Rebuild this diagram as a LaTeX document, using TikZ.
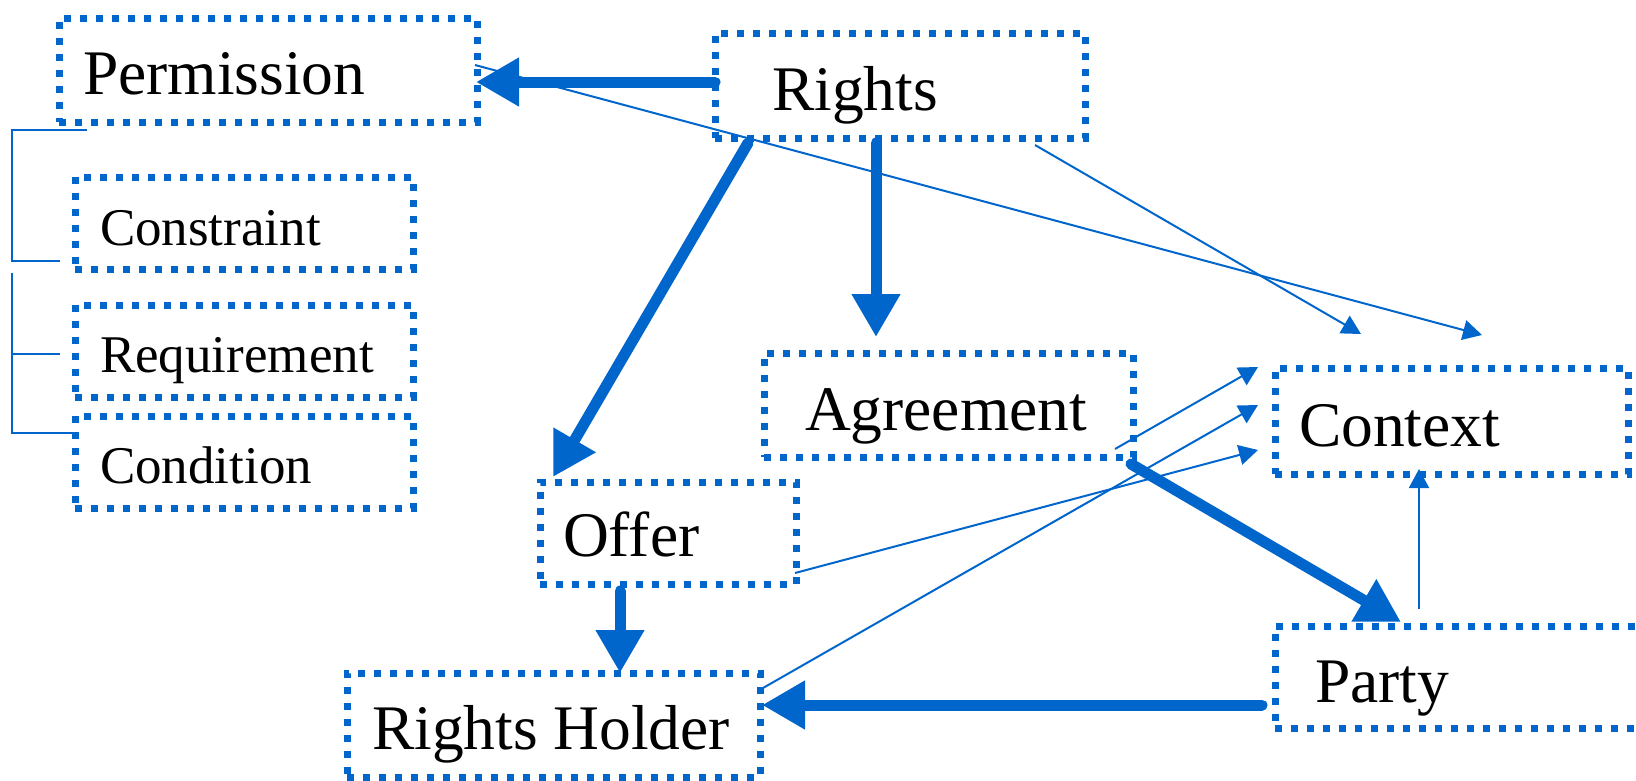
\documentclass[tikz,border=0pt]{standalone}
\usepackage{fontspec}
\setmainfont{Liberation Serif}
\usetikzlibrary{arrows.meta}
\definecolor{bl}{RGB}{0,102,204}
\begin{document}
\begin{tikzpicture}[x=1pt,y=-1pt,
  dotbox/.style={draw=bl, line width=7pt, dash pattern=on 7pt off 9pt, rectangle, inner sep=0pt, outer sep=0pt, text depth=0pt, font=\fontsize{63.5pt}{70pt}\selectfont},
  smallbox/.style={dotbox, font=\fontsize{53pt}{60pt}\selectfont},
  thickarrow/.style={draw=bl, line width=11pt, line cap=round, -{Triangle[length=43pt,width=46pt]}},
  thinarrow/.style={draw=bl, line width=2pt, -{Triangle[length=19pt,width=20pt]}},
  bracket/.style={draw=bl, line width=1.5pt}]
\useasboundingbox (0,0) rectangle (1636,780);
\clip (0,0) rectangle (1636,780);
% boxes
\node[dotbox, minimum width=418pt, minimum height=104pt, text height=48pt] (perm) at (268,70) {\makebox[370pt][l]{Permission}};
\node[dotbox, minimum width=370pt, minimum height=105pt, text height=49pt] (rights) at (900,85.5) {\makebox[256pt][l]{Rights}};
\node[smallbox, minimum width=338pt, minimum height=92pt, text height=44pt] (constraint) at (244,223) {\makebox[288pt][l]{Constraint}};
\node[smallbox, minimum width=338pt, minimum height=92pt, text height=42pt] (requirement) at (244,351) {\makebox[288pt][l]{Requirement}};
\node[smallbox, minimum width=338pt, minimum height=92pt, text height=42pt] (condition) at (244,462) {\makebox[288pt][l]{Condition}};
\node[dotbox, minimum width=369pt, minimum height=104pt, text height=50pt] (agreement) at (948.5,405) {\makebox[287pt][l]{Agreement}};
\node[dotbox, minimum width=256pt, minimum height=102pt, text height=46pt] (offer) at (668,533) {\makebox[210pt][l]{Offer}};
\node[dotbox, minimum width=413pt, minimum height=104pt, text height=48pt] (holder) at (553.5,725) {\makebox[363pt][l]{Rights Holder}};
\node[dotbox, minimum width=353pt, minimum height=106pt, text height=50pt] (context) at (1451.5,421) {\makebox[305pt][l]{Context}};
\node[dotbox, minimum width=425pt, minimum height=102pt, text height=50pt] (party) at (1487.5,677) {\makebox[345pt][l]{Party}};
% brackets
\draw[bracket] ([xshift=28pt,yshift=-8pt]perm.south west) -- ++(-75,0) |- ([xshift=-15pt,yshift=8pt]constraint.south west);
\draw[bracket] ([xshift=-63pt,yshift=-4pt]constraint.south west) |- ([xshift=2pt,yshift=75pt]condition.south west);
\draw[bracket] ([xshift=-63pt,yshift=-3pt]requirement.west) -- ++(48,0);
% thin connectors
\draw[thinarrow] ([xshift=-2pt,yshift=5pt]perm.east) -- ([xshift=30.5pt,yshift=33pt]context.north);
\draw[thinarrow] ([xshift=-50pt,yshift=-7pt]rights.south east) -- ([xshift=-90.5pt,yshift=34pt]context.north);
\draw[thinarrow] ([xshift=-18pt,yshift=8pt]agreement.south east) -- ([xshift=-17pt,yshift=54pt]context.west);
\draw[thinarrow] ([xshift=3pt,yshift=-15pt]holder.north east) -- ([xshift=-17pt,yshift=16pt]context.west);
\draw[thinarrow] ([xshift=-1pt,yshift=11pt]offer.south east) -- ([xshift=-17pt,yshift=-29pt]context.west);
\draw[thinarrow] ([xshift=144pt,yshift=17pt]party.north west) -- ([xshift=-32.5pt,yshift=5pt]context.south);
% thick connectors
\draw[thickarrow] ([yshift=3.5pt]rights.west) -- ([xshift=-1pt,yshift=-12pt]perm.east);
\draw[thickarrow] ([xshift=-24pt,yshift=-5pt]rights.south) -- ([xshift=-72.5pt,yshift=16pt]agreement.north);
\draw[thickarrow] ([xshift=33pt,yshift=-5pt]rights.south west) -- ([xshift=13pt,yshift=5pt]offer.north west);
\draw[thickarrow] ([xshift=-48pt,yshift=-7pt]offer.south) -- ([xshift=66.5pt]holder.north);
\draw[thickarrow] ([xshift=-13pt,yshift=-28pt]party.west) -- ([xshift=2pt,yshift=20pt]holder.east);
\draw[thickarrow] ([xshift=-2pt,yshift=-7pt]agreement.south east) -- ([xshift=126pt,yshift=4pt]party.north west);
\end{tikzpicture}
\end{document}
